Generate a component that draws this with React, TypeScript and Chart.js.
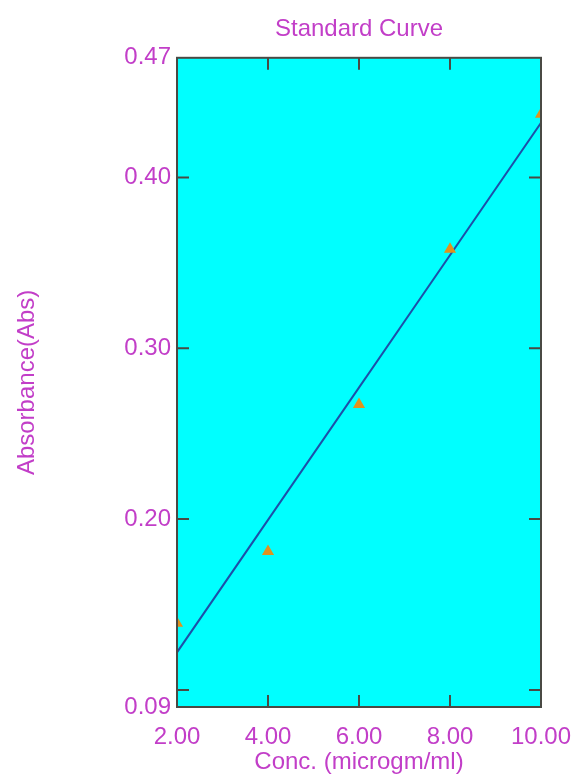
import React, { useEffect, useRef } from "react";
import { Chart, registerables } from "chart.js";

Chart.register(...registerables);

// ---- data ----
const concentrations = [2, 4, 6, 8, 10];
const absorbances = [0.139, 0.181, 0.267, 0.358, 0.437];
const fitX = [2, 10];
const fitY = [0.122, 0.432];
const xTickValues = [2, 4, 6, 8, 10];
const yTickValues = [0.09, 0.2, 0.3, 0.4, 0.47];
const xMarkValues = [4, 6, 8];
const yMarkValues = [0.1, 0.2, 0.3, 0.4];
const xRange = [2, 10];
const yRange = [0.09, 0.47];
const chartTitle = "Standard Curve";
const xTitle = "Conc. (microgm/ml)";
const yTitle = "Absorbance(Abs)";

const TEXT = "#c23ec8";
const FONT_FAMILY = "'Liberation Sans', Arial, sans-serif";
const FONT_SIZE = 24;

const framePlugin = {
  id: "frame",
  beforeDraw(chart: any) {
    const { ctx, chartArea } = chart;
    const { left, top, right, bottom } = chartArea;
    ctx.save();
    ctx.fillStyle = "#00FFFF";
    ctx.fillRect(left, top, right - left, bottom - top);
    ctx.restore();
  },
  afterDatasetsDraw(chart: any) {
    const { ctx, chartArea, scales } = chart;
    const { left, top, right, bottom } = chartArea;
    const x = scales.x;
    const y = scales.y;
    const len = 12;
    ctx.save();
    ctx.strokeStyle = "#4a4a44";
    ctx.lineWidth = 2;
    ctx.beginPath();
    xMarkValues.forEach((v) => {
      const px = x.getPixelForValue(v);
      ctx.moveTo(px, bottom);
      ctx.lineTo(px, bottom - len);
      ctx.moveTo(px, top);
      ctx.lineTo(px, top + len);
    });
    yMarkValues.forEach((v) => {
      const py = y.getPixelForValue(v);
      ctx.moveTo(left, py);
      ctx.lineTo(left + len, py);
      ctx.moveTo(right, py);
      ctx.lineTo(right - len, py);
    });
    ctx.stroke();
    ctx.strokeRect(left, top, right - left, bottom - top);
    ctx.restore();
  },
};

export default function App() {
  const canvasRef = useRef<HTMLCanvasElement | null>(null);

  useEffect(() => {
    if (!canvasRef.current) return;
    const points = concentrations.map((c, i) => ({ x: c, y: absorbances[i] }));
    const fit = fitX.map((c, i) => ({ x: c, y: fitY[i] }));
    const font = { family: FONT_FAMILY, size: FONT_SIZE, weight: "normal" as const };

    const chart = new Chart(canvasRef.current, {
      type: "scatter",
      data: {
        datasets: [
          {
            label: "Standards",
            data: points,
            showLine: false,
            pointStyle: "triangle",
            pointRadius: 7,
            pointBackgroundColor: "#e0921e",
            pointBorderColor: "#e0921e",
            pointBorderWidth: 0,
            clip: 0,
          },
          {
            label: "Fit",
            data: fit,
            showLine: true,
            borderColor: "#1d4fa8",
            borderWidth: 2,
            pointRadius: 0,
            clip: 0,
          },
        ],
      },
      plugins: [framePlugin],
      options: {
        animation: false,
        responsive: false,
        devicePixelRatio: 1,
        layout: { padding: { left: 0, right: 36, top: 0, bottom: 0 } },
        plugins: {
          legend: { display: false },
          tooltip: { enabled: false },
          title: {
            display: true,
            fullSize: false,
            text: chartTitle,
            color: TEXT,
            font,
            padding: { top: 15, bottom: 14 },
          },
        },
        scales: {
          x: {
            type: "linear",
            min: xRange[0],
            max: xRange[1],
            afterBuildTicks: (scale: any) => {
              scale.ticks = xTickValues.map((v) => ({ value: v }));
            },
            afterFit: (scale: any) => {
              scale.height = 70;
              scale.paddingLeft = 0;
              scale.paddingRight = 0;
            },
            grid: { display: false, drawTicks: false },
            border: { display: false },
            ticks: {
              color: TEXT,
              font,
              padding: 16,
              maxRotation: 0,
              autoSkip: false,
              callback: (v: any) => Number(v).toFixed(2),
            },
            title: {
              display: true,
              text: xTitle,
              color: TEXT,
              font,
              padding: { top: 0, bottom: 0 },
            },
          },
          y: {
            type: "linear",
            min: yRange[0],
            max: yRange[1],
            afterBuildTicks: (scale: any) => {
              scale.ticks = yTickValues.map((v) => ({ value: v }));
            },
            afterFit: (scale: any) => {
              scale.width = 177;
              scale.paddingTop = 0;
              scale.paddingBottom = 0;
            },
            grid: { display: false, drawTicks: false },
            border: { display: false },
            ticks: {
              color: TEXT,
              font,
              padding: 6,
              autoSkip: false,
              callback: (v: any) => Number(v).toFixed(2),
            },
            title: {
              display: true,
              text: yTitle,
              color: TEXT,
              font,
              padding: { top: 13, bottom: 0 },
            },
          },
        },
      },
    });
    return () => chart.destroy();
  }, []);

  return (
    <div style={{ position: "absolute", left: 0, top: 0, width: 577, height: 777, background: "#ffffff" }}>
      <canvas ref={canvasRef} width={577} height={777} style={{ display: "block" }} />
    </div>
  );
}
